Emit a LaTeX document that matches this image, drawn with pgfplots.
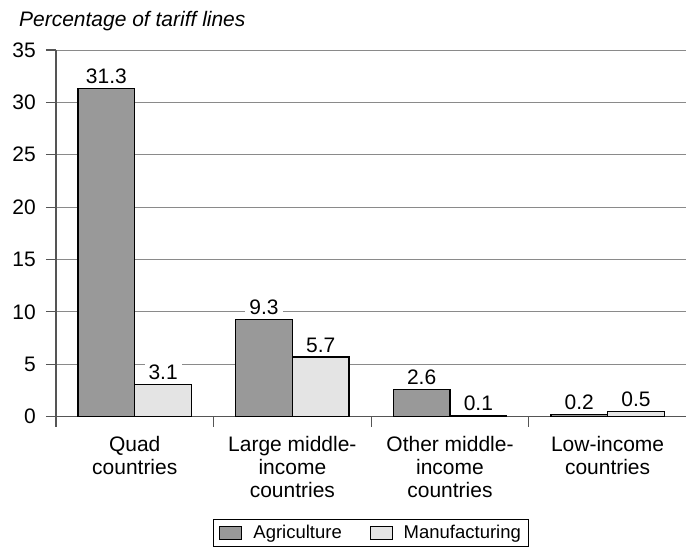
\documentclass[border=0pt]{standalone}
\usepackage{pgfplots}
\pgfplotsset{compat=1.18}
\usepackage{fontspec}
\setmainfont{Liberation Sans}
\definecolor{agri}{HTML}{999999}
\definecolor{manu}{HTML}{E4E4E4}
\definecolor{gridc}{HTML}{8A8A8A}
\definecolor{axc}{HTML}{555555}
\begin{document}
\fontsize{21bp}{24bp}\selectfont
\begin{tikzpicture}
\begin{axis}[
  scale only axis, width=631bp, height=367bp,
  xmin=-0.5, xmax=3.5, ymin=0, ymax=35,
  ytick={0,5,...,35},
  xtick={0,1,2,3},
  xticklabels={{Quad\\countries},{Large middle-\\income\\countries},{Other middle-\\income\\countries},{Low-income\\countries}},
  xticklabel style={align=center, font=\fontsize{21bp}{23.5bp}\selectfont, yshift=-2bp},
  x tick style={draw=none},
  extra x ticks={-0.5,0.5,1.5,2.5},
  extra x tick labels={},
  extra x tick style={x tick style={draw=axc, line width=1.2bp}},
  axis lines*=left,
  axis line style={axc, line width=1.2bp},
  tick align=outside, major tick length=10bp,
  y tick style={axc, line width=1.2bp},
  ymajorgrids, grid style={gridc, line width=0.8bp},
  /pgf/number format/assume math mode=true,
  yticklabel style={font=\fontsize{21bp}{24bp}\selectfont, xshift=-3bp},
  ybar=0pt, bar width=0.36,
  clip=false,
  nodes near coords={\pgfmathprintnumber[assume math mode=true,fixed,fixed zerofill,precision=1]{\pgfplotspointmeta}},
  nodes near coords style={fill=white, inner xsep=4bp, inner ysep=1bp, yshift=3bp, font=\fontsize{21bp}{24bp}\selectfont},
  legend columns=2,
  legend style={at={(0.5,-0.28)}, anchor=north, draw=black, line width=1bp,
    font=\fontsize{18.5bp}{21bp}\selectfont, inner xsep=6bp, inner ysep=3bp,
    /tikz/every odd column/.append style={column sep=9bp},
    /tikz/every even column/.append style={column sep=26bp},
    legend cell align=left},
]
\addplot[fill=agri, draw=black, line width=1.3bp, bar shift=-0.18,
  legend image code/.code={\draw[fill=agri, draw=black, line width=1bp] (0bp,-6bp) rectangle (22bp,7bp);}]
  coordinates {(0,31.3) (1,9.3) (2,2.6) (3,0.2)};
\addplot[fill=manu, draw=black, line width=1.3bp, bar shift=0.18,
  legend image code/.code={\draw[fill=manu, draw=black, line width=1bp] (0bp,-6bp) rectangle (22bp,7bp);}]
  coordinates {(0,3.1) (1,5.7) (2,0.1) (3,0.5)};
\legend{Agriculture, Manufacturing}
\coordinate (O) at (rel axis cs:0,0);
\node[anchor=base west, font=\fontsize{21bp}{24bp}\selectfont\itshape] at ([xshift=-44bp,yshift=23bp]rel axis cs:0,1) {Percentage of tariff lines};
\end{axis}
\path (O) ++(-56bp,-133bp) rectangle ++(687bp,550bp);
\end{tikzpicture}
\end{document}
